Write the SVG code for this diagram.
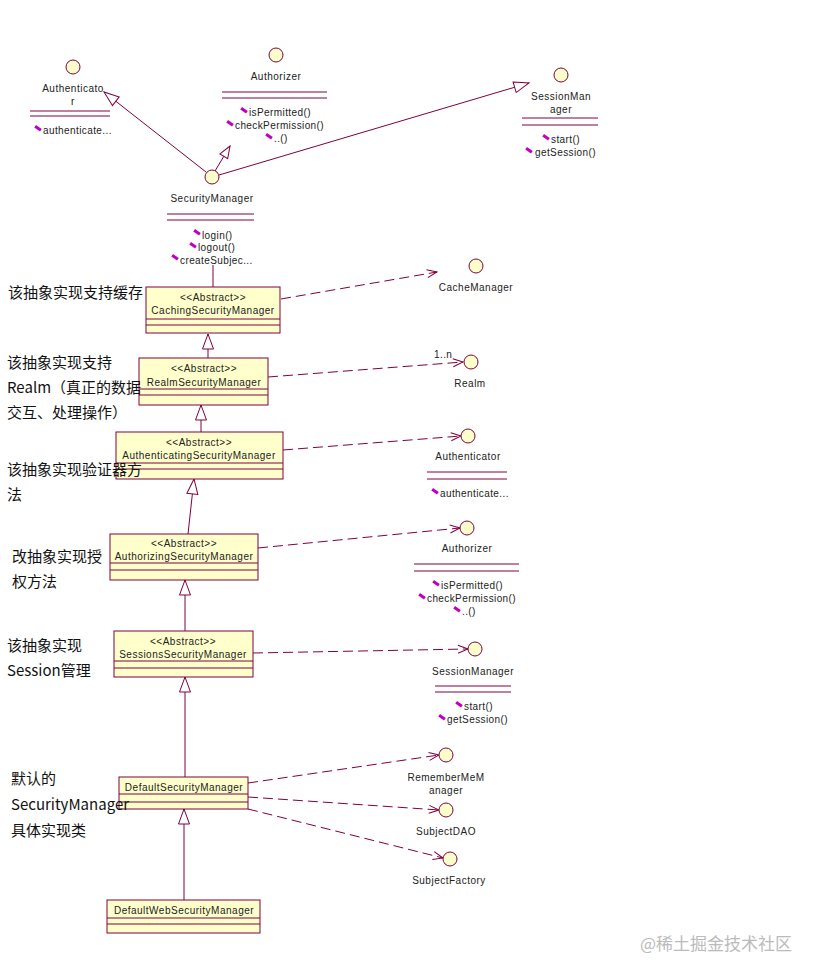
<svg xmlns="http://www.w3.org/2000/svg" width="819" height="980" viewBox="0 0 819 980">
<style>
.ln{stroke:#800040;stroke-width:1;fill:none}
.dash{stroke:#800040;stroke-width:1;fill:none;stroke-dasharray:10,5}
.box{fill:#FFFFCC;stroke:#800040;stroke-width:1}
.ifc{fill:#FFFFCC;stroke:#800040;stroke-width:1}
.t{font-family:"Liberation Sans",Arial,sans-serif;font-size:10px;fill:#222;text-anchor:middle;letter-spacing:0.5px}
.m{font-family:"Liberation Sans",Arial,sans-serif;font-size:10px;fill:#222;letter-spacing:0.4px}
.ic{fill:#C000C0}
.cn{font-family:"Noto Sans CJK SC",sans-serif;font-size:15px;fill:#111}
.wm{font-family:"Noto Sans CJK SC",sans-serif;font-size:17px;fill:#bbb}
</style>
<defs>
<marker id="tri" markerWidth="17" markerHeight="13" refX="16" refY="6.5" orient="auto" markerUnits="userSpaceOnUse"><path d="M1,1 L16,6.5 L1,12 Z" fill="#fff" stroke="#800040"/></marker>
<marker id="tris" markerWidth="14" markerHeight="11" refX="13" refY="5.5" orient="auto" markerUnits="userSpaceOnUse"><path d="M1,1 L13,5.5 L1,10 Z" fill="#fff" stroke="#800040"/></marker>
<marker id="open" markerWidth="12" markerHeight="10" refX="11" refY="5" orient="auto" markerUnits="userSpaceOnUse"><path d="M1,1 L11,5 L1,9" fill="none" stroke="#800040"/></marker>
</defs>
<rect width="819" height="980" fill="#fff"/>

<g id="connectors">
<line class="ln" x1="206" y1="172" x2="104" y2="92" marker-end="url(#tri)"/>
<line class="ln" x1="215" y1="171" x2="230" y2="146" marker-end="url(#tris)"/>
<line class="ln" x1="219" y1="175" x2="529" y2="83" marker-end="url(#tri)"/>
<line class="ln" x1="213" y1="265" x2="213" y2="287"/>
<line class="ln" x1="208" y1="358" x2="208" y2="334" marker-end="url(#tri)"/>
<line class="ln" x1="201" y1="432" x2="201" y2="405" marker-end="url(#tri)"/>
<line class="ln" x1="188" y1="534" x2="194" y2="479" marker-end="url(#tri)"/>
<line class="ln" x1="185" y1="631" x2="185" y2="580" marker-end="url(#tri)"/>
<line class="ln" x1="185" y1="777" x2="185" y2="677" marker-end="url(#tri)"/>
<line class="ln" x1="184" y1="900" x2="184" y2="809" marker-end="url(#tri)"/>
<line class="dash" x1="281" y1="299" x2="437" y2="272" marker-end="url(#open)"/>
<line class="dash" x1="268" y1="377" x2="463" y2="362" marker-end="url(#open)"/>
<text class="m" x="434" y="358">1..n</text>
<line class="dash" x1="283" y1="450" x2="461" y2="436" marker-end="url(#open)"/>
<line class="dash" x1="258" y1="548" x2="460" y2="528" marker-end="url(#open)"/>
<line class="dash" x1="253" y1="653" x2="468" y2="649" marker-end="url(#open)"/>
<line class="dash" x1="248" y1="783" x2="439" y2="755" marker-end="url(#open)"/>
<line class="dash" x1="248" y1="797" x2="439" y2="810" marker-end="url(#open)"/>
<line class="dash" x1="248" y1="809" x2="443" y2="858" marker-end="url(#open)"/>
</g>

<g id="Authenticator-top">
<circle class="ifc" cx="73" cy="67" r="7"/>
<text class="t" x="73" y="92">Authenticato</text>
<text class="t" x="73" y="105">r</text>
<line class="ln" x1="30" y1="111" x2="110" y2="111"/>
<line class="ln" x1="30" y1="116" x2="110" y2="116"/>
<rect class="ic" width="7" height="3" transform="translate(36,125) rotate(35)"/>
<text class="m" x="43" y="134">authenticate...</text>
</g>

<g id="Authorizer-top">
<circle class="ifc" cx="276" cy="55" r="7"/>
<text class="t" x="276" y="80">Authorizer</text>
<line class="ln" x1="222" y1="92" x2="327" y2="92"/>
<line class="ln" x1="222" y1="98" x2="327" y2="98"/>
<rect class="ic" width="7" height="3" transform="translate(242,107) rotate(35)"/>
<text class="m" x="249" y="116">isPermitted()</text>
<rect class="ic" width="7" height="3" transform="translate(228,120) rotate(35)"/>
<text class="m" x="235" y="129">checkPermission()</text>
<rect class="ic" width="7" height="3" transform="translate(267,133) rotate(35)"/>
<text class="m" x="274" y="142">..()</text>
</g>

<g id="SessionManager-top">
<circle class="ifc" cx="561" cy="75" r="7"/>
<text class="t" x="561" y="100">SessionMan</text>
<text class="t" x="561" y="113">ager</text>
<line class="ln" x1="522" y1="118" x2="598" y2="118"/>
<line class="ln" x1="522" y1="125" x2="598" y2="125"/>
<rect class="ic" width="7" height="3" transform="translate(544,134) rotate(35)"/>
<text class="m" x="551" y="143">start()</text>
<rect class="ic" width="7" height="3" transform="translate(527,147) rotate(35)"/>
<text class="m" x="535" y="156">getSession()</text>
</g>

<g id="SecurityManager">
<circle class="ifc" cx="212" cy="177" r="7"/>
<text class="t" x="212" y="202">SecurityManager</text>
<line class="ln" x1="167" y1="214" x2="254" y2="214"/>
<line class="ln" x1="167" y1="220" x2="254" y2="220"/>
<rect class="ic" width="7" height="3" transform="translate(195,229) rotate(35)"/>
<text class="m" x="202" y="239">login()</text>
<rect class="ic" width="7" height="3" transform="translate(191,242) rotate(35)"/>
<text class="m" x="198" y="251">logout()</text>
<rect class="ic" width="7" height="3" transform="translate(173,254) rotate(35)"/>
<text class="m" x="180" y="264">createSubjec...</text>
</g>

<g id="CachingSecurityManager">
<rect class="box" x="146" y="287" width="134" height="46"/>
<text class="t" x="213" y="301">&lt;&lt;Abstract&gt;&gt;</text>
<text class="t" x="213" y="314">CachingSecurityManager</text>
<line class="ln" x1="146" y1="319" x2="280" y2="319"/>
<line class="ln" x1="146" y1="325" x2="280" y2="325"/>
</g>

<g id="RealmSecurityManager">
<rect class="box" x="139" y="358" width="129" height="47"/>
<text class="t" x="204" y="372">&lt;&lt;Abstract&gt;&gt;</text>
<text class="t" x="204" y="386">RealmSecurityManager</text>
<line class="ln" x1="139" y1="389" x2="268" y2="389"/>
<line class="ln" x1="139" y1="395" x2="268" y2="395"/>
</g>

<g id="AuthenticatingSecurityManager">
<rect class="box" x="116" y="432" width="167" height="47"/>
<text class="t" x="199" y="446">&lt;&lt;Abstract&gt;&gt;</text>
<text class="t" x="199" y="459">AuthenticatingSecurityManager</text>
<line class="ln" x1="116" y1="463" x2="283" y2="463"/>
<line class="ln" x1="116" y1="469" x2="283" y2="469"/>
</g>

<g id="AuthorizingSecurityManager">
<rect class="box" x="110" y="534" width="148" height="46"/>
<text class="t" x="184" y="547">&lt;&lt;Abstract&gt;&gt;</text>
<text class="t" x="184" y="560">AuthorizingSecurityManager</text>
<line class="ln" x1="110" y1="563" x2="258" y2="563"/>
<line class="ln" x1="110" y1="570" x2="258" y2="570"/>
</g>

<g id="SessionsSecurityManager">
<rect class="box" x="114" y="631" width="139" height="46"/>
<text class="t" x="183" y="645">&lt;&lt;Abstract&gt;&gt;</text>
<text class="t" x="183" y="658">SessionsSecurityManager</text>
<line class="ln" x1="114" y1="661" x2="253" y2="661"/>
<line class="ln" x1="114" y1="668" x2="253" y2="668"/>
</g>

<g id="DefaultSecurityManager">
<rect class="box" x="119" y="777" width="129" height="32"/>
<text class="t" x="184" y="791">DefaultSecurityManager</text>
<line class="ln" x1="119" y1="794" x2="248" y2="794"/>
<line class="ln" x1="119" y1="802" x2="248" y2="802"/>
</g>

<g id="DefaultWebSecurityManager">
<rect class="box" x="107" y="900" width="153" height="33"/>
<text class="t" x="184" y="914">DefaultWebSecurityManager</text>
<line class="ln" x1="107" y1="918" x2="260" y2="918"/>
<line class="ln" x1="107" y1="924" x2="260" y2="924"/>
</g>

<g id="CacheManager">
<circle class="ifc" cx="476" cy="266" r="7"/>
<text class="t" x="476" y="291">CacheManager</text>
</g>

<g id="Realm">
<circle class="ifc" cx="471" cy="362" r="7"/>
<text class="t" x="470" y="387">Realm</text>
</g>

<g id="Authenticator">
<circle class="ifc" cx="468" cy="436" r="7"/>
<text class="t" x="468" y="460">Authenticator</text>
<line class="ln" x1="427" y1="472" x2="507" y2="472"/>
<line class="ln" x1="427" y1="479" x2="507" y2="479"/>
<rect class="ic" width="7" height="3" transform="translate(433,488) rotate(35)"/>
<text class="m" x="440" y="497">authenticate...</text>
</g>

<g id="Authorizer">
<circle class="ifc" cx="467" cy="528" r="7"/>
<text class="t" x="467" y="552">Authorizer</text>
<line class="ln" x1="414" y1="564" x2="519" y2="564"/>
<line class="ln" x1="414" y1="571" x2="519" y2="571"/>
<rect class="ic" width="7" height="3" transform="translate(434,580) rotate(35)"/>
<text class="m" x="441" y="589">isPermitted()</text>
<rect class="ic" width="7" height="3" transform="translate(420,593) rotate(35)"/>
<text class="m" x="427" y="602">checkPermission()</text>
<rect class="ic" width="7" height="3" transform="translate(455,606) rotate(35)"/>
<text class="m" x="462" y="615">..()</text>
</g>

<g id="SessionManager">
<circle class="ifc" cx="475" cy="649" r="7"/>
<text class="t" x="473" y="675">SessionManager</text>
<line class="ln" x1="435" y1="686" x2="511" y2="686"/>
<line class="ln" x1="435" y1="692" x2="511" y2="692"/>
<rect class="ic" width="7" height="3" transform="translate(457,701) rotate(35)"/>
<text class="m" x="464" y="710">start()</text>
<rect class="ic" width="7" height="3" transform="translate(440,714) rotate(35)"/>
<text class="m" x="447" y="723">getSession()</text>
</g>

<g id="RememberMeManager">
<circle class="ifc" cx="446" cy="755" r="7"/>
<text class="t" x="446" y="781">RememberMeM</text>
<text class="t" x="446" y="794">anager</text>
</g>

<g id="SubjectDAO">
<circle class="ifc" cx="446" cy="810" r="7"/>
<text class="t" x="446" y="835">SubjectDAO</text>
</g>

<g id="SubjectFactory">
<circle class="ifc" cx="450" cy="859" r="7"/>
<text class="t" x="449" y="884">SubjectFactory</text>
</g>

<g id="annotations">
<text class="cn" x="8" y="298">该抽象实现支持缓存</text>
<text class="cn" x="7" y="368">该抽象实现支持</text>
<text class="cn" x="7" y="393">Realm（真正的数据</text>
<text class="cn" x="7" y="418">交互、处理操作）</text>
<text class="cn" x="7" y="475">该抽象实现验证器方</text>
<text class="cn" x="7" y="500">法</text>
<text class="cn" x="12" y="562">改抽象实现授</text>
<text class="cn" x="12" y="587">权方法</text>
<text class="cn" x="7" y="651">该抽象实现</text>
<text class="cn" x="7" y="676">Session管理</text>
<text class="cn" x="11" y="784">默认的</text>
<text class="cn" x="11" y="810">SecurityManager</text>
<text class="cn" x="11" y="836">具体实现类</text>
</g>

<text class="wm" x="640" y="950">@稀土掘金技术社区</text>
</svg>
